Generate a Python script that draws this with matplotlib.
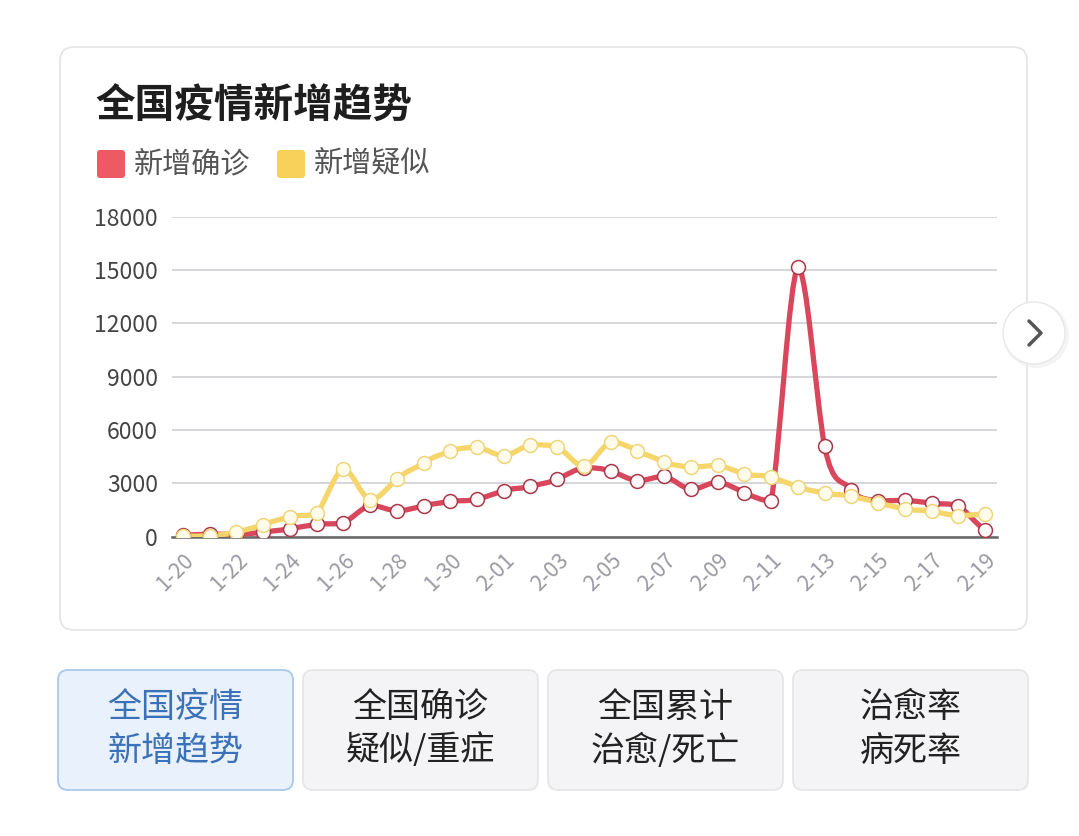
import numpy as np
import matplotlib
matplotlib.use('Agg')
from matplotlib import pyplot as plt
from matplotlib.patches import FancyBboxPatch, Circle, PathPatch
from matplotlib.path import Path

plt.rcParams['font.family'] = ['Noto Sans CJK SC', 'DejaVu Sans']

# 数据
dates = ['1-20', '1-21', '1-22', '1-23', '1-24', '1-25', '1-26', '1-27', '1-28', '1-29',
         '1-30', '1-31', '2-01', '2-02', '2-03', '2-04', '2-05', '2-06', '2-07', '2-08',
         '2-09', '2-10', '2-11', '2-12', '2-13', '2-14', '2-15', '2-16', '2-17', '2-18', '2-19']
new_confirmed = [77, 149, 131, 259, 444, 688, 769, 1771, 1459, 1737,
                 1982, 2102, 2590, 2829, 3235, 3887, 3694, 3143, 3399, 2656,
                 3062, 2478, 2015, 15152, 5090, 2641, 2009, 2048, 1886, 1749, 394]
new_suspected = [27, 60, 257, 680, 1118, 1309, 3806, 2077, 3248, 4148,
                 4812, 5019, 4562, 5173, 5072, 3971, 5328, 4833, 4214, 3916,
                 4008, 3536, 3342, 2807, 2450, 2277, 1918, 1563, 1432, 1185, 1277]
y_ticks = [0, 3000, 6000, 9000, 12000, 15000, 18000]
legend_names = ['新增确诊', '新增疑似']
title = '全国疫情新增趋势'
buttons = [('全国疫情', '新增趋势'), ('全国确诊', '疑似/重症'), ('全国累计', '治愈/死亡'), ('治愈率', '病死率')]

RED = '#d8475c'
YELLOW = '#f6d56a'
W, H = 1079, 836


def smooth_path(xs, ys, k=0.22):
    # 贝塞尔平滑连线，控制点限制在相邻两点之间，避免过冲（仅用于绘制）
    xs = np.asarray(xs, float)
    ys = np.asarray(ys, float)
    n = len(xs)
    verts = [(xs[0], ys[0])]
    codes = [Path.MOVETO]
    for i in range(n - 1):
        p0 = max(i - 1, 0)
        p3 = min(i + 2, n - 1)
        lo, hi = min(ys[i], ys[i + 1]), max(ys[i], ys[i + 1])
        c1y = np.clip(ys[i] + (ys[i + 1] - ys[p0]) * k, lo, hi)
        c2y = np.clip(ys[i + 1] - (ys[p3] - ys[i]) * k, lo, hi)
        c1 = (xs[i] + (xs[i + 1] - xs[i]) / 3, c1y)
        c2 = (xs[i + 1] - (xs[i + 1] - xs[i]) / 3, c2y)
        verts += [c1, c2, (xs[i + 1], ys[i + 1])]
        codes += [Path.CURVE4] * 3
    return Path(verts, codes)


fig = plt.figure(figsize=(W / 100, H / 100), dpi=100)
fig.patch.set_facecolor('white')

# 背景装饰层（像素坐标）
bg = fig.add_axes([0, 0, 1, 1])
bg.set_xlim(0, W)
bg.set_ylim(H, 0)
bg.axis('off')

card = FancyBboxPatch((60, 47), 967, 583, boxstyle='round,pad=0,rounding_size=14',
                      facecolor='white', edgecolor='#e4e4e6', lw=1.2)
bg.add_patch(card)

bg.text(95, 105, title, fontsize=28.5, fontweight='bold', color='#1e1e1e', va='center', ha='left')

bg.add_patch(FancyBboxPatch((97, 150), 28, 28, boxstyle='round,pad=0,rounding_size=3',
                            facecolor='#ee5a63', edgecolor='none'))
bg.text(134, 164, legend_names[0], fontsize=21, color='#555555', va='center', ha='left')
bg.add_patch(FancyBboxPatch((277, 150), 28, 28, boxstyle='round,pad=0,rounding_size=3',
                            facecolor='#f8d15a', edgecolor='none'))
bg.text(314, 164, legend_names[1], fontsize=21, color='#555555', va='center', ha='left')

# 右侧箭头按钮
bg.add_patch(Circle((1036, 335), 33, facecolor='#ededed', edgecolor='none', alpha=0.6))
bg.add_patch(Circle((1034, 333), 31, facecolor='white', edgecolor='#e8e8e8', lw=1))
bg.plot([1029, 1041, 1029], [321, 333, 345], color='#555555', lw=2.5, solid_capstyle='round',
        solid_joinstyle='round')

# 底部按钮
bx = [58, 303, 548, 793]
for i, (l1, l2) in enumerate(buttons):
    active = i == 0
    bg.add_patch(FancyBboxPatch((bx[i], 670), 235, 120, boxstyle='round,pad=0,rounding_size=10',
                                facecolor='#e9f2fc' if active else '#f4f4f6',
                                edgecolor='#a9c8ea' if active else '#e6e6e8', lw=1.3))
    c = '#3b71b9' if active else '#222222'
    bg.text(bx[i] + 117.5, 708, l1, fontsize=24.5, color=c, ha='center', va='center')
    bg.text(bx[i] + 117.5, 751, l2, fontsize=24.5, color=c, ha='center', va='center')

# 折线图
x0, x1 = 172, 997
ytop, ybot = 216.7, 536.7
ax = fig.add_axes([x0 / W, 1 - ybot / H, (x1 - x0) / W, (ybot - ytop) / H])
ax.patch.set_alpha(0)
idx = np.arange(len(dates))
ax.set_xlim(-0.41, len(dates) - 1 + 0.45)
ax.set_ylim(0, 18000)

ax.set_yticks(y_ticks)
ax.set_yticklabels([str(v) for v in y_ticks])
ax.yaxis.grid(True, color='#d0d0d4', lw=1.2)
ax.set_axisbelow(True)
for s in ['top', 'right', 'left']:
    ax.spines[s].set_visible(False)
ax.spines['bottom'].set_color('#666666')
ax.spines['bottom'].set_linewidth(1.8)
ax.tick_params(axis='y', length=0, pad=10, labelsize=16.5, labelcolor='#444444')
ax.tick_params(axis='x', length=0, pad=9, labelsize=15.5, labelcolor='#9a9aa2')
ax.set_xticks(idx[::2])
ax.set_xticklabels(dates[::2], rotation=45, ha='right', va='top', rotation_mode='anchor')

ax.add_patch(PathPatch(smooth_path(idx, new_confirmed), facecolor='none', edgecolor=RED,
                       lw=3.8, capstyle='round', joinstyle='round', zorder=3))
ax.add_patch(PathPatch(smooth_path(idx, new_suspected), facecolor='none', edgecolor=YELLOW,
                       lw=3.8, capstyle='round', joinstyle='round', zorder=4))
ax.plot(idx, new_confirmed, ls='none', marker='o', ms=10, mfc='#fff8f8', mec='#a8384a', mew=1.1,
        zorder=5)
ax.plot(idx, new_suspected, ls='none', marker='o', ms=10, mfc='#fffbea', mec='#efd57a', mew=1.1,
        zorder=6)

fig.savefig('out.png', dpi=100)
